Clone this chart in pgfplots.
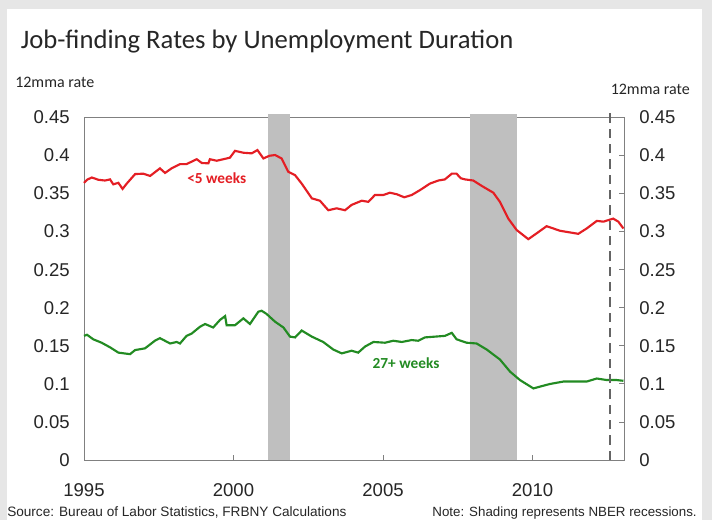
\documentclass[border=0pt]{standalone}
\usepackage{fontspec}
\setmainfont{Liberation Sans}
\newfontfamily\calibri{Carlito}
\usepackage{pgfplots}
\pgfplotsset{compat=1.18}
\usepackage{pgfplotstable}
\definecolor{bgframe}{RGB}{230,230,230}
\definecolor{shortred}{RGB}{228,30,36}
\definecolor{longgreen}{RGB}{34,139,34}
\definecolor{recgray}{RGB}{191,191,191}
\definecolor{axgray}{RGB}{128,128,128}
\definecolor{dashgray}{RGB}{100,100,100}

% <5 weeks, 12mma rate
\pgfplotstableread{
year rate
1995.00 0.364
1995.10 0.368
1995.26 0.371
1995.48 0.368
1995.70 0.367
1995.87 0.3685
1995.98 0.362
1996.15 0.364
1996.29 0.356
1996.43 0.363
1996.71 0.3755
1996.98 0.376
1997.21 0.373
1997.54 0.383
1997.71 0.377
1997.93 0.383
1998.21 0.3886
1998.43 0.3886
1998.77 0.395
1998.94 0.390
1999.16 0.3896
1999.21 0.395
1999.44 0.393
1999.77 0.396
1999.88 0.397
2000.05 0.406
2000.33 0.4035
2000.61 0.4027
2000.80 0.407
2001.00 0.396
2001.20 0.3995
2001.39 0.4005
2001.61 0.396
2001.83 0.3786
2002.06 0.374
2002.28 0.363
2002.62 0.3436
2002.89 0.3405
2003.17 0.328
2003.45 0.3305
2003.73 0.328
2003.95 0.335
2004.29 0.3405
2004.51 0.339
2004.73 0.348
2005.01 0.348
2005.23 0.351
2005.46 0.349
2005.71 0.345
2005.96 0.348
2006.24 0.3545
2006.57 0.363
2006.85 0.367
2007.07 0.3685
2007.30 0.376
2007.46 0.376
2007.60 0.370
2007.74 0.3685
2008.02 0.367
2008.30 0.360
2008.69 0.351
2008.91 0.339
2009.19 0.317
2009.47 0.302
2009.86 0.290
2010.14 0.2977
2010.47 0.307
2010.70 0.304
2010.92 0.301
2011.31 0.2985
2011.53 0.297
2011.81 0.304
2012.15 0.314
2012.37 0.313
2012.70 0.317
2012.87 0.313
2013.04 0.304
}\shortdur

% 27+ weeks, 12mma rate
\pgfplotstableread{
year rate
1995.00 0.163
1995.10 0.1645
1995.31 0.1585
1995.59 0.154
1995.87 0.148
1996.15 0.141
1996.54 0.139
1996.71 0.1444
1997.04 0.1466
1997.37 0.1566
1997.54 0.160
1997.88 0.153
1998.10 0.155
1998.21 0.153
1998.43 0.163
1998.60 0.166
1998.88 0.175
1999.05 0.1786
1999.32 0.174
1999.55 0.184
1999.72 0.189
1999.77 0.177
2000.05 0.177
2000.33 0.186
2000.55 0.1786
2000.83 0.1947
2000.94 0.196
2001.10 0.192
2001.39 0.1816
2001.67 0.174
2001.89 0.162
2002.06 0.161
2002.28 0.170
2002.62 0.162
2003.00 0.155
2003.34 0.145
2003.62 0.140
2003.95 0.1435
2004.17 0.141
2004.40 0.149
2004.68 0.155
2005.07 0.154
2005.34 0.1566
2005.63 0.155
2005.96 0.1575
2006.18 0.1566
2006.40 0.161
2006.74 0.162
2007.07 0.163
2007.30 0.167
2007.46 0.1585
2007.80 0.154
2008.13 0.153
2008.47 0.145
2008.91 0.132
2009.25 0.116
2009.58 0.105
2010.03 0.094
2010.31 0.097
2010.58 0.0998
2011.03 0.103
2011.48 0.103
2011.81 0.103
2012.15 0.107
2012.48 0.105
2012.81 0.105
2013.04 0.104
}\longdur

\pgfplotsset{
  jobframe/.style={
    at={(63pt,45pt)}, anchor=south west,
    scale only axis, width=405pt, height=257pt,
    xmin=1995, xmax=2013.06, ymin=0, ymax=0.45,
    ytick={0,0.05,0.1,0.15,0.2,0.25,0.3,0.35,0.4,0.45},
    yticklabels={0,0.05,0.1,0.15,0.2,0.25,0.3,0.35,0.4,0.45},
    tick align=inside, major tick length=3.5pt,
    tick style={axgray, line width=0.6pt},
    ticklabel style={font=\fontsize{13.9}{16}\selectfont, text=black!85},
  }
}

\begin{document}
\begin{tikzpicture}
% page and frame
\fill[bgframe] (0,0) rectangle (534pt,390pt);
\fill[white] (5.25pt,0) rectangle (526.5pt,383.25pt);

\node[anchor=base west, inner sep=0pt, font=\calibri\fontsize{20}{23}\selectfont, text=black!85]
  at (15.5pt,353.8pt) {Job-finding Rates by Unemployment Duration};
\node[anchor=base west, inner sep=0pt, font=\calibri\fontsize{12}{14}\selectfont, text=black!85]
  at (11.25pt,324.5pt) {12mma rate};
\node[anchor=base east, inner sep=0pt, font=\calibri\fontsize{12}{14}\selectfont, text=black!85]
  at (517.5pt,319pt) {12mma rate};
\node[anchor=base west, inner sep=0pt, font=\fontsize{10.2}{12}\selectfont, text=black!85]
  at (5.25pt,3pt) {Source: Bureau of Labor Statistics, FRBNY Calculations};
\node[anchor=base east, inner sep=0pt, font=\fontsize{10}{12}\selectfont, text=black!85]
  at (522.75pt,3pt) {Note: Shading represents NBER recessions.};

\begin{axis}[jobframe,
  clip=false,
  axis line style={axgray, line width=0.6pt},
  xtick={1995,2000,2005,2010},
  xticklabels={1995,2000,2005,2010},
  xtick pos=bottom,
  ytick pos=left,
  ytick style={draw=none},
  yticklabel style={anchor=east, inner sep=0pt, xshift=-10.5pt},
  xticklabel style={anchor=north, inner sep=0pt, yshift=-17.5pt},
]
% NBER recessions
\addplot[fill=recgray, draw=none] coordinates {(2001.17,0) (2001.17,0.4545) (2001.88,0.4545) (2001.88,0)};
\addplot[fill=recgray, draw=none] coordinates {(2007.92,0) (2007.92,0.4545) (2009.47,0.4545) (2009.47,0)};

\addplot[shortred, line width=1.6pt] table[x=year, y=rate] {\shortdur};
\addplot[longgreen, line width=1.6pt] table[x=year, y=rate] {\longdur};

% latest-data marker
\addplot[dashgray, line width=1.4pt, dash pattern=on 7pt off 4.5pt] coordinates {(2012.6,0) (2012.6,0.458)};

\node[text=shortred, font=\calibri\bfseries\fontsize{11.5}{13}\selectfont] at (axis cs:1999.44,0.37) {<5 weeks};
\node[text=longgreen, font=\calibri\bfseries\fontsize{11.5}{13}\selectfont] at (axis cs:2005.77,0.1278) {27+ weeks};
\end{axis}

\begin{axis}[jobframe,
  axis line style={draw=none},
  xtick=\empty,
  ytick pos=right,
  yticklabel pos=right,
  yticklabel style={anchor=west, inner sep=0pt, xshift=11.3pt},
]
\end{axis}
\end{tikzpicture}
\end{document}
